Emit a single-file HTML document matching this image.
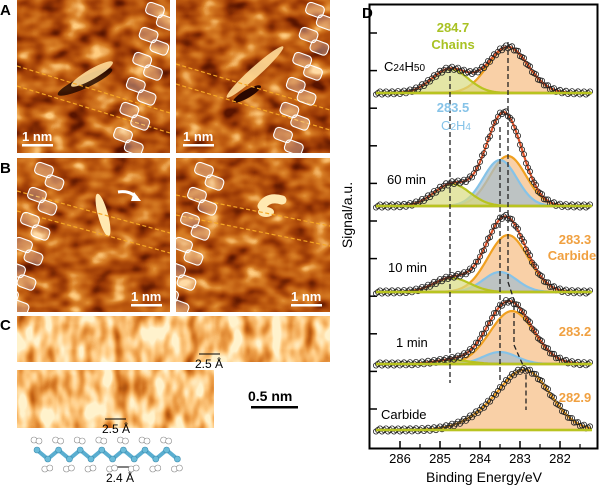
<!DOCTYPE html>
<html><head><meta charset="utf-8"><style>
html,body{margin:0;padding:0;background:#fff;}
svg{display:block;font-family:"Liberation Sans",sans-serif;}
</style></head><body>
<svg id="fig" width="600" height="487" viewBox="0 0 600 487">
<defs>
<filter id="stm" x="0" y="0" width="100%" height="100%" color-interpolation-filters="sRGB">
<feTurbulence type="fractalNoise" baseFrequency="0.045 0.065" numOctaves="2" seed="4"/>
<feColorMatrix type="matrix" values="1.6 0 0 0 -0.3  1.6 0 0 0 -0.3  1.6 0 0 0 -0.3  0 0 0 0 1"/>
<feComponentTransfer>
<feFuncR type="table" tableValues="0.35 0.6 0.74 0.85 1"/>
<feFuncG type="table" tableValues="0.08 0.22 0.35 0.5 0.8"/>
<feFuncB type="table" tableValues="0 0.02 0.06 0.15 0.5"/>
</feComponentTransfer>
</filter>
<filter id="stmc" x="0" y="0" width="100%" height="100%" color-interpolation-filters="sRGB">
<feTurbulence type="fractalNoise" baseFrequency="0.07 0.04" numOctaves="2" seed="9"/>
<feColorMatrix type="matrix" values="1.8 0 0 0 -0.2  1.8 0 0 0 -0.2  1.8 0 0 0 -0.2  0 0 0 0 1"/>
<feComponentTransfer>
<feFuncR type="table" tableValues="0.55 0.8 0.93 1 1"/>
<feFuncG type="table" tableValues="0.22 0.42 0.62 0.8 0.95"/>
<feFuncB type="table" tableValues="0.02 0.1 0.28 0.52 0.8"/>
</feComponentTransfer>
</filter>
<clipPath id="cA1"><rect x="17" y="0" width="153" height="153"/></clipPath>
<clipPath id="cA2"><rect x="176" y="0" width="154" height="153"/></clipPath>
<clipPath id="cB1"><rect x="17" y="158" width="153" height="154"/></clipPath>
<clipPath id="cB2"><rect x="176" y="158" width="154" height="154"/></clipPath>
</defs>

<g id="left">
<text x="0" y="15" font-size="15" font-weight="bold">A</text>
<text x="0" y="173" font-size="15" font-weight="bold">B</text>
<text x="0" y="330" font-size="15" font-weight="bold">C</text>

<rect x="17" y="0" width="153" height="153" filter="url(#stm)"/>
<rect x="176" y="0" width="154" height="153" filter="url(#stm)"/>
<rect x="17" y="158" width="153" height="154" filter="url(#stm)"/>
<rect x="176" y="158" width="154" height="154" filter="url(#stm)"/>

<g>
<ellipse cx="85" cy="82" rx="30" ry="6" transform="rotate(-25 85 82)" fill="#1a0500" opacity="0.8"/>
<ellipse cx="92" cy="74" rx="24" ry="5" transform="rotate(-30 92 74)" fill="#ffdc98" opacity="0.9"/>
<ellipse cx="255" cy="72" rx="38" ry="5" transform="rotate(-42 255 72)" fill="#ffdc98" opacity="0.9"/>
<ellipse cx="247" cy="94" rx="16" ry="4" transform="rotate(-30 247 94)" fill="#2a0800"/>
<ellipse cx="103" cy="215" rx="22" ry="5" transform="rotate(75 103 215)" fill="#ffe8b0"/>
<path d="M262 206 Q268 196 282 200" stroke="#ffe8b0" stroke-width="9" fill="none" stroke-linecap="round"/>
<ellipse cx="266" cy="212" rx="8" ry="5" fill="#ffe8b0"/>
<path d="M118 192 Q130 190 137 198" stroke="#fff" stroke-width="3" fill="none"/>
<polygon points="134,192 141,201 131,201" fill="#fff"/>
</g>
<g stroke="#f5a623" stroke-width="1.2" stroke-dasharray="4,2.5" fill="none">
<line x1="17" y1="66" x2="170" y2="113" clip-path="url(#cA1)"/>
<line x1="17" y1="86" x2="170" y2="133" clip-path="url(#cA1)"/>
<line x1="176" y1="64" x2="330" y2="110" clip-path="url(#cA2)"/>
<line x1="176" y1="84" x2="330" y2="130" clip-path="url(#cA2)"/>
<line x1="17" y1="191" x2="170" y2="233" clip-path="url(#cB1)"/>
<line x1="17" y1="211" x2="170" y2="253" clip-path="url(#cB1)"/>
<line x1="176" y1="195" x2="330" y2="226" clip-path="url(#cB2)"/>
<line x1="176" y1="215" x2="330" y2="246" clip-path="url(#cB2)"/>
</g>
<g id="chains"></g>

<g fill="#fff" font-size="13" font-weight="bold">
<text x="22" y="141">1 nm</text><rect x="22" y="144" width="31" height="2.5"/>
<text x="183" y="141">1 nm</text><rect x="183" y="144" width="31" height="2.5"/>
<text x="131" y="301">1 nm</text><rect x="131" y="304" width="31" height="2.5"/>
<text x="291" y="301">1 nm</text><rect x="291" y="304" width="31" height="2.5"/>
</g>

<rect x="17" y="316" width="313" height="46" filter="url(#stmc)"/>
<rect x="17" y="370" width="197" height="58" filter="url(#stmc)"/>
<g stroke="#000" stroke-width="1">
<line x1="199" y1="354" x2="220" y2="354"/><line x1="105" y1="419" x2="126" y2="419"/><line x1="112" y1="467" x2="133" y2="467"/>
</g>
<g font-size="12">
<text x="195" y="368">2.5 Å</text><text x="102" y="433">2.5 Å</text><text x="106" y="482">2.4 Å</text>
</g>
<text x="248" y="401" font-size="14" font-weight="bold">0.5 nm</text>
<rect x="251" y="406" width="47" height="2.5" fill="#000"/>
<g id="mol"></g>
</g>

<g id="plot">
<text x="362" y="18" font-size="15" font-weight="bold">D</text>
<rect x="369.5" y="4.5" width="228" height="444" fill="none" stroke="#000" stroke-width="2"/>
<g id="series"></g>
<g id="axes"></g>
<text transform="translate(352,215) rotate(-90)" text-anchor="middle" font-size="14">Signal/a.u.</text>
<text x="484" y="482" text-anchor="middle" font-size="14">Binding Energy/eV</text>
<g font-size="13">
<text x="453" y="32" fill="#a9c223" font-weight="bold" text-anchor="middle">284.7</text>
<text x="453" y="49" fill="#a9c223" font-weight="bold" text-anchor="middle">Chains</text>
<text x="384" y="71">C<tspan font-size="10">24</tspan>H<tspan font-size="10">50</tspan></text>
<text x="453" y="112" fill="#86c3e8" font-weight="bold" text-anchor="middle">283.5</text>
<text x="456" y="130" fill="#86c3e8" text-anchor="middle">C<tspan font-size="10">2</tspan>H<tspan font-size="10">4</tspan></text>
<text x="387" y="184">60 min</text>
<text x="575" y="244" fill="#f0a040" font-weight="bold" text-anchor="middle">283.3</text>
<text x="572" y="260" fill="#f0a040" font-weight="bold" text-anchor="middle">Carbide</text>
<text x="388" y="272">10 min</text>
<text x="396" y="347">1 min</text>
<text x="575" y="336" fill="#f0a040" font-weight="bold" text-anchor="middle">283.2</text>
<text x="575" y="402" fill="#f0a040" font-weight="bold" text-anchor="middle">282.9</text>
<text x="381" y="419">Carbide</text>
</g>
</g>
</svg>
<script>
const NS="http://www.w3.org/2000/svg";
function mk(t,a,p){const e=document.createElementNS(NS,t);for(const k in a)e.setAttribute(k,a[k]);p.appendChild(e);return e;}

// ---- XPS data ----
const spectra=["C24H50","60 min","10 min","1 min","Carbide"];
const baselines=[93,206,292,364,430];
const greenCenter=[284.75,284.7,284.7,284.7,284.7];
const greenHeight=[24,22,14,4,0];
const blueCenter=[283.5,283.5,283.5,283.5,283.5];
const blueHeight=[0,46,20,12,0];
const orangeCenter=[283.3,283.3,283.3,283.2,282.85];
const orangeHeight=[46,50,57,53,58];
const orangeWidth=[0.5,0.45,0.5,0.55,0.62];
const xTicks=[286,285,284,283,282];

const X=e=>400+(286-e)*40;
const g=(e,c,h,s)=>h*Math.exp(-0.5*((e-c)/s)**2);
const ser=document.getElementById('series');
const E=[];for(let e=286.6;e>=281.2;e-=0.05)E.push(e);
function area(b,f,fill,stroke,name,op){
  let d="M"+X(E[0])+","+b;E.forEach(e=>d+="L"+X(e).toFixed(1)+","+(b-f(e)).toFixed(1));
  d+="L"+X(E[E.length-1])+","+b+"Z";
  const p=mk('path',{d:d,fill:fill,'fill-opacity':op,stroke:stroke,'stroke-width':2.2},ser);
  
  
}
spectra.forEach((s,i)=>{
  const b=baselines[i];
  const fg=e=>g(e,greenCenter[i],greenHeight[i],0.45);
  const fb=e=>g(e,blueCenter[i],blueHeight[i],0.42);
  const fo=e=>g(e,orangeCenter[i],orangeHeight[i],orangeWidth[i])+(i==4?g(e,283.9,10,0.6):0);
  area(b,fo,"#f7c08a","#f0a020","orange-component",0.75);
  if(blueHeight[i]>0)area(b,fb,"#a8bfcc","#86c3e8","blue-component",0.75);
  if(greenHeight[i]>0)area(b,fg,"#d8dc80","#b8c420","green-component",0.7);
  const tot=e=>fg(e)+fb(e)+fo(e);
  if(i<4)area(b,tot,"none","#e2542a","fit-envelope",0);
  const pts=mk('g',{fill:'none',stroke:'#222','stroke-width':0.8},ser);
  
  
  for(let k=0;k<E.length;k+=1){const e=E[k];mk('circle',{cx:X(e).toFixed(1),cy:(b-tot(e)-((k%3)-1)*1.5).toFixed(1),r:2.6},pts);}
  const base=mk('line',{x1:X(286.6),x2:X(281.2),y1:b,y2:b,stroke:'#b8c420','stroke-width':2.5},ser);
  
  
});
const dl=mk('g',{stroke:'#222','stroke-width':1.3,'stroke-dasharray':'5,3',fill:'none'},ser);


mk('line',{x1:X(284.75),x2:X(284.75),y1:68,y2:383},dl);
mk('line',{x1:X(283.5),x2:X(283.5),y1:127,y2:383},dl);
mk('path',{d:`M${X(283.3)},42L${X(283.3)},282L${X(283.15)},300L${X(283.15)},345L${X(282.85)},372L${X(282.85)},410`},dl);

const ax=document.getElementById('axes');
xTicks.forEach(t=>{
  const l=mk('line',{x1:X(t),x2:X(t),y1:441,y2:448,stroke:'#000','stroke-width':1.5},ax);
  
  
  const m=mk('line',{x1:X(t-0.5),x2:X(t-0.5),y1:444,y2:448,stroke:'#000','stroke-width':1.2},ax);
  
  
  const tx=mk('text',{x:X(t),y:463,'text-anchor':'middle','font-size':13},ax);
  tx.textContent=t;
  
  
});
for(let y=33;y<440;y+=37.6){
  const l=mk('line',{x1:370,x2:377,y1:y.toFixed(1),y2:y.toFixed(1),stroke:'#000','stroke-width':1.5},ax);
  
  
}

// ---- chain overlays ----
const ch=document.getElementById('chains');
function chain(x0,y0,dx,dy,n,clip){
  const gg=mk('g',{'clip-path':'url(#'+clip+')'},ch);
  for(let k=0;k<n;k++){
    const cx=x0+dx*k+(k%2?7:-7), cy=y0+dy*k;
    mk('rect',{x:cx-9,y:cy-6,width:18,height:12,rx:4,fill:'rgba(255,255,255,0.3)',stroke:'#fff','stroke-width':1.1,transform:`rotate(20 ${cx} ${cy})`},gg);
  }
}
chain(162,10,-3.2,12.5,12,'cA1');
chain(322,10,-3.2,12.5,12,'cA2');
chain(51,170,-3.5,12.5,12,'cB1');
chain(211,170,-3.5,12.5,12,'cB2');

// ---- molecule ----
const mol=document.getElementById('mol');
const n=14;
let d="";
for(let k=0;k<n;k++){const x=37+k*10.8,y=k%2?459:450;d+=(k?"L":"M")+x+","+y;}
mk('path',{d:d,stroke:'#5aaed0','stroke-width':4,fill:'none'},mol);
for(let k=0;k<n;k++){
  const x=37+k*10.8,y=k%2?459:450,hy=k%2?469:440;
  mk('circle',{cx:x-3,cy:hy,r:3,fill:'#fff',stroke:'#888','stroke-width':0.6},mol);
  mk('circle',{cx:x+2,cy:hy+(k%2?-1:1),r:3,fill:'#fff',stroke:'#888','stroke-width':0.6},mol);
  mk('circle',{cx:x,cy:y,r:3,fill:'#6bbcd9',stroke:'#3b8db0','stroke-width':0.6},mol);
}
</script>
</body></html>
